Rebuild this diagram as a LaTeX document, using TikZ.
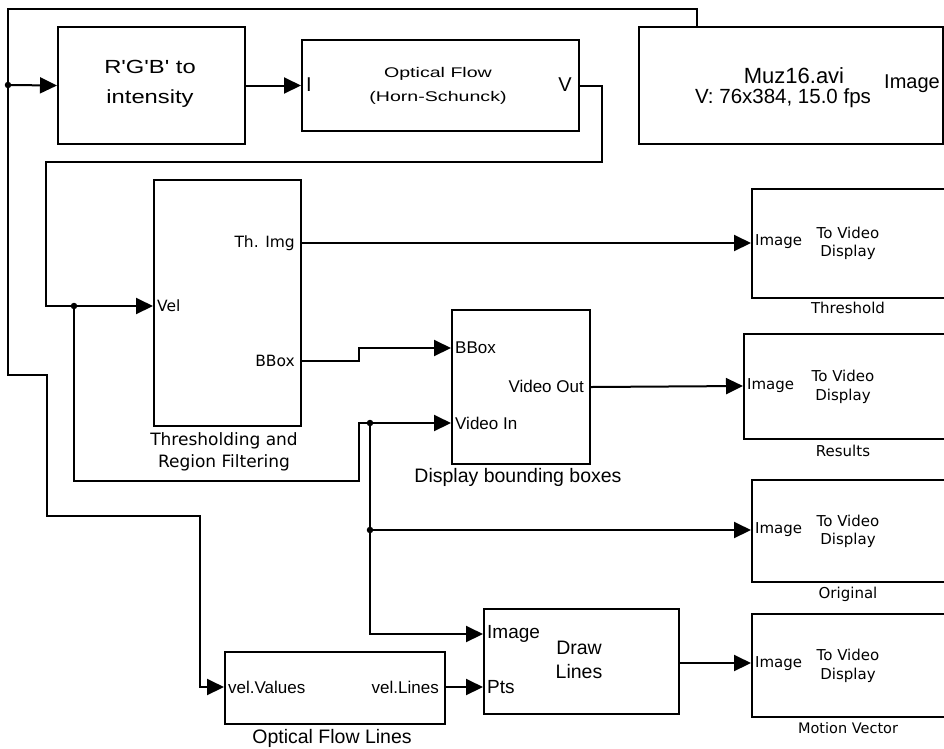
\documentclass[tikz,border=0pt]{standalone}
\usepackage{fontspec}
\setmainfont{Liberation Sans}
\newfontfamily\dv{DejaVu Sans}
\newfontfamily\wideA[FakeStretch=1.4]{Liberation Sans}
\newfontfamily\wideB[FakeStretch=1.25]{Liberation Sans}
\usetikzlibrary{arrows.meta}
\newcommand{\fs}[1]{\fontsize{#1}{#1}\selectfont}
\begin{document}
\begin{tikzpicture}[x=1pt,y=-1pt,
  blk/.style={draw, line width=2pt, rectangle, inner sep=0pt, anchor=north west},
  txt/.style={inner sep=0pt, text=black},
  wire/.style={line width=2pt},
  arr/.style={-{Triangle[length=17pt,width=16pt]}},
  jdot/.style={circle, fill=black, inner sep=0pt, minimum size=6.5pt}]
\useasboundingbox (0,0) rectangle (944,748);
\clip (0,0) rectangle (944,748);

% blocks
\node[blk, minimum width=187pt, minimum height=117pt] (rgb) at (57,26) {};
\node[blk, minimum width=277pt, minimum height=91pt] (of) at (301,39) {};
\node[blk, minimum width=304pt, minimum height=117pt] (muz) at (638,26) {};
\node[blk, minimum width=147pt, minimum height=246pt] (th) at (153,179) {};
\node[blk, minimum width=138pt, minimum height=154pt] (dbb) at (451,309) {};
\node[blk, minimum width=220pt, minimum height=109pt] (vdT) at (751,188) {};
\node[blk, minimum width=230pt, minimum height=105pt] (vdR) at (743,333) {};
\node[blk, minimum width=220pt, minimum height=102pt] (vdO) at (751,479) {};
\node[blk, minimum width=220pt, minimum height=103pt] (vdM) at (751,613) {};
\node[blk, minimum width=195pt, minimum height=105pt] (dl) at (483,608) {};
\node[blk, minimum width=220pt, minimum height=72pt] (ofl) at (224,651) {};

% texts: top row
\node[txt, font=\wideB\fs{19}] (rgbA) at (150,67) {R'G'B' to};
\node[txt, font=\wideB\fs{19}] (rgbB) at (150,99) {intensity};
\node[txt, font=\wideA\fs{14}] (ofA) at (438,74) {Optical Flow};
\node[txt, font=\wideA\fs{14}] (ofB) at (438,98) {(Horn-Schunck)};
\node[txt, font=\fs{20}, anchor=west] (ofI) at (306,85) {I};
\node[txt, font=\fs{20}] (ofV) at (565,85) {V};
\node[txt, font=\fs{22}] (muzA) at (794,76) {Muz16.avi};
\node[txt, font=\fs{20.5}] (muzB) at (783,98) {V: 76x384, 15.0 fps};
\node[txt, font=\fs{20}, anchor=east] (muzC) at (940,84) {Image};

% thresholding
\node[txt, font=\dv\fs{15.5}, anchor=east] (thA) at (295,243) {Th. Img};
\node[txt, font=\dv\fs{15.5}, anchor=west] (thB) at (157,306) {Vel};
\node[txt, font=\dv\fs{15.5}, anchor=east] (thC) at (295,361) {BBox};
\node[txt, font=\dv\fs{17}] (thL1) at (224,441) {Thresholding and};
\node[txt, font=\dv\fs{17}] (thL2) at (224,463) {Region Filtering};

% display bounding boxes
\node[txt, font=\fs{17}, anchor=west] (dbA) at (455,348) {BBox};
\node[txt, font=\fs{17}, anchor=east] (dbB) at (584,386) {Video Out};
\node[txt, font=\fs{17}, anchor=west] (dbC) at (455,423) {Video In};
\node[txt, font=\fs{19.5}] (dbL) at (518,477) {Display bounding boxes};

% video displays
\node[txt, font=\dv\fs{15}, anchor=west] (vtI) at (755,242) {Image};
\node[txt, font=\dv\fs{15}] (vtA) at (848,233) {To Video};
\node[txt, font=\dv\fs{15}] (vtB) at (848,252) {Display};
\node[txt, font=\dv\fs{15}] (vtL) at (848,308) {Threshold};

\node[txt, font=\dv\fs{15}, anchor=west] (vrI) at (747,386) {Image};
\node[txt, font=\dv\fs{15}] (vrA) at (843,376) {To Video};
\node[txt, font=\dv\fs{15}] (vrB) at (843,396) {Display};
\node[txt, font=\dv\fs{15}] (vrL) at (843,451) {Results};

\node[txt, font=\dv\fs{15}, anchor=west] (voI) at (755,530) {Image};
\node[txt, font=\dv\fs{15}] (voA) at (848,521) {To Video};
\node[txt, font=\dv\fs{15}] (voB) at (848,540) {Display};
\node[txt, font=\dv\fs{15}] (voL) at (848,594) {Original};

\node[txt, font=\dv\fs{15}, anchor=west] (vmI) at (755,664) {Image};
\node[txt, font=\dv\fs{15}] (vmA) at (848,655) {To Video};
\node[txt, font=\dv\fs{15}] (vmB) at (848,675) {Display};
\node[txt, font=\dv\fs{14.5}] (vmL) at (848,728) {Motion Vector};

% draw lines
\node[txt, font=\fs{19}, anchor=west] (dlA) at (487,634) {Image};
\node[txt, font=\fs{19}, anchor=west] (dlB) at (487,687) {Pts};
\node[txt, font=\fs{19.5}] (dlC) at (579,648) {Draw};
\node[txt, font=\fs{19.5}] (dlD) at (579,672) {Lines};

% optical flow lines
\node[txt, font=\fs{17}, anchor=west] (oflA) at (228,687) {vel.Values};
\node[txt, font=\fs{17}, anchor=east] (oflB) at (439,687) {vel.Lines};
\node[txt, font=\fs{19.5}] (oflL) at (332,738) {Optical Flow Lines};

% junctions
\node[jdot] (j1) at (8,85) {};
\node[jdot] (j2) at (74,306) {};
\node[jdot] (j3) at (370,423) {};
\node[jdot] (j4) at (370,530) {};

% wires
\draw[wire, arr] (muz.north -| 697,0) -- (697,9) -- (8,9) -- (8,375) -- (47,375)
   -- (47,516) -- (200,516) -- (200,687) -- (ofl.west |- 0,687);
\draw[wire, arr] (j1.center) -- (rgb.west);
\draw[wire, arr] (rgb.east) -- (of.west);
\draw[wire, arr] (of.east) -| (602,162) -| (46,306) -- (th.west |- 0,306);
\draw[wire, arr] (j2.center) -- (74,481) -- (359,481) -- (359,423) -- (dbb.west |- 0,423);
\draw[wire, arr] (j3.center) -- (370,634) -- (dl.west |- 0,634);
\draw[wire, arr] (j4.center) -- (vdO.west |- 0,530);
\draw[wire, arr] (th.east |- 0,243) -- (vdT.west |- 0,243);
\draw[wire, arr] (th.east |- 0,361) -- (359,361) -- (359,348) -- (dbb.west |- 0,348);
\draw[wire, arr] (dbb.east) -- (vdR.west |- 0,386);
\draw[wire, arr] (ofl.east |- 0,687) -- (dl.west |- 0,687);
\draw[wire, arr] (dl.east |- 0,663) -- (vdM.west |- 0,663);
\end{tikzpicture}
\end{document}
